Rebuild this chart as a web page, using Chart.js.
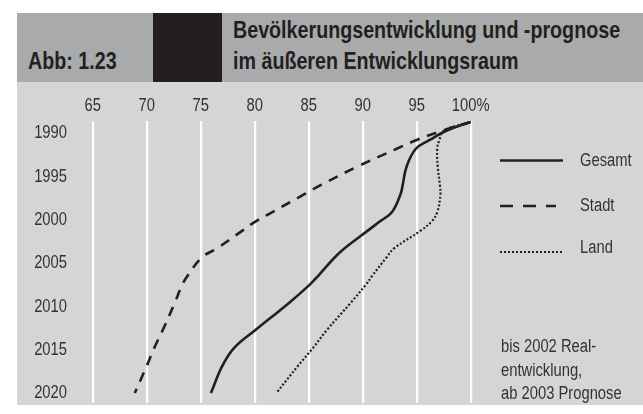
<!DOCTYPE html>
<html>
<head>
<meta charset="utf-8">
<script src="https://cdn.jsdelivr.net/npm/chart.js@4.4.0/dist/chart.umd.min.js"></script>
<style>
  body { margin: 0; width: 643px; height: 414px; background: #fff; position: relative; overflow: hidden;
         font-family: 'Liberation Sans', Arial, sans-serif; color: #231f20; }
  .nar   { transform: scaleX(0.82); transform-origin: 0 0; white-space: nowrap; }
  #head  { position: absolute; left: 17px; top: 13px; width: 626px; height: 69px; background: #a9aaac; }
  #box   { position: absolute; left: 153px; top: 13px; width: 69px; height: 69px; background: #231f20; }
  #abb   { position: absolute; left: 28px; top: 47px; font-weight: bold; font-size: 24px; line-height: 28px; }
  #title { position: absolute; left: 233px; top: 14px; font-weight: bold; font-size: 24px; line-height: 31px; }
  #plot  { position: absolute; left: 17px; top: 82px; width: 626px; height: 323px; background: #d4d5d7; }
  #plot canvas { position: absolute; left: 0; top: 0; }
  .lg    { position: absolute; left: 580px; font-size: 18px; line-height: 24px; color: #333; }
  .sw    { position: absolute; left: 500px; }
  #note  { position: absolute; left: 501px; top: 335px; font-size: 18px; line-height: 23.5px; color: #333; }
</style>
</head>
<body>
<div id="head"></div>
<div id="box"></div>
<div id="abb" class="nar">Abb: 1.23</div>
<div id="title" class="nar">Bevölkerungsentwicklung und -prognose<br>im äußeren Entwicklungsraum</div>
<div id="plot"><canvas id="chart" width="626" height="323"></canvas></div>

<svg class="sw" style="top:150px" width="64" height="20"><line x1="0" y1="10.5" x2="63" y2="10.5" stroke="#231f20" stroke-width="2.6"/></svg>
<svg class="sw" style="top:196px" width="64" height="20"><line x1="0" y1="10" x2="56" y2="10" stroke="#231f20" stroke-width="2.6" stroke-dasharray="13 10"/></svg>
<svg class="sw" style="top:242px" width="64" height="20"><line x1="0" y1="10" x2="62" y2="10" stroke="#231f20" stroke-width="2.2" stroke-dasharray="2 2"/></svg>
<div class="lg nar" style="top:148px">Gesamt</div>
<div class="lg nar" style="top:193px">Stadt</div>
<div class="lg nar" style="top:235px">Land</div>
<div id="note" class="nar">bis 2002 Real-<br>entwicklung,<br>ab 2003 Prognose</div>

<script>
// Jahre (y) und Index in % (x)
const years  = [1990, 1991, 1992, 1993, 1995, 1997, 1998, 2000, 2001, 2002, 2004, 2005, 2007, 2008, 2010, 2013, 2015, 2017, 2020];
const gesamt = [100, 97.7, 96.2, 94.9, 94.05, 93.7, 93.5, 92.7, 91.6, 90.5, 88.3, 87.4, 85.9, 85.1, 83.2, 80.1, 78.1, 77.0, 75.95];
const stadt  = [100, 97.3, 95.0, 93.1, 89.4, 86.1, 84.6, 81.6, 80.1, 78.9, 76.5, 75.1, 73.8, 73.3, 72.6, 71.5, 70.7, 70.0, 68.9];
const land   = [100, 97.5, 97.1, 96.9, 96.95, 97.15, 97.2, 96.9, 96.4, 95.4, 92.9, 92.2, 90.9, 90.3, 88.9, 86.7, 85.4, 84.0, 82.0];

const xTicks  = [65, 70, 75, 80, 85, 90, 95, 100];
const xLabels = ["65", "70", "75", "80", "85", "90", "95", "100%"];
const yTicks  = [1990, 1995, 2000, 2005, 2010, 2015, 2020];

const FONT = "'Liberation Sans', Arial, sans-serif";
const INK = "#231f20";

const toPoints = (vals) => vals.map((v, i) => ({ x: v, y: years[i] }));

function line(label, vals, dash, width) {
    return {
        label: label,
        data: toPoints(vals),
        showLine: true,
        borderColor: INK,
        borderWidth: width,
        borderDash: dash,
        borderCapStyle: "butt",
        pointRadius: 0,
        tension: 0.4,
        yAxisID: "y"
    };
}

// no automatic edge padding from the scales
function noPad(scale) {
    scale.paddingTop = 0;
    scale.paddingBottom = 0;
    scale.paddingLeft = 0;
    scale.paddingRight = 0;
}

// Arial Narrow is not installed: squeeze each tick label around its anchor
function narrowLabels(s) {
    if (s._narrow) return;
    s._narrow = true;
    const orig = s.drawLabels.bind(s);
    s.drawLabels = function (area) {
        const ctx = s.ctx;
        const fill = ctx.fillText;
        ctx.fillText = function (t, x, y) {
            this.save();
            this.translate(x, y);
            this.scale(0.82, 1);
            fill.call(this, t, 0, 0);
            this.restore();
        };
        orig(area);
        ctx.fillText = fill;
    };
}

new Chart(document.getElementById("chart"), {
    type: "scatter",
    data: {
        datasets: [
            line("Gesamt", gesamt, [], 2.6),
            line("Stadt", stadt, [10, 8], 2.6),
            line("Land", land, [2, 2], 2.2)
        ]
    },
    options: {
        responsive: false,
        animation: false,
        layout: { padding: { left: 0, top: 0, right: 172.3, bottom: 2 } },
        plugins: { legend: { display: false }, tooltip: { enabled: false } },
        scales: {
            x: {
                type: "linear",
                position: "top",
                min: 65,
                max: 100,
                afterBuildTicks: (s) => { s.ticks = xTicks.map(v => ({ value: v })); },
                afterFit: (s) => { s.height = 39; noPad(s); narrowLabels(s); },
                grid: { color: "#ffffff", lineWidth: 2.2, drawTicks: false },
                border: { display: false },
                ticks: {
                    padding: 4.5,
                    color: "#333",
                    font: { family: FONT, size: 18 },
                    callback: (v) => xLabels[xTicks.indexOf(v)]
                }
            },
            // data scale (hidden)
            y: {
                type: "linear",
                reverse: true,
                min: 1989.9,
                max: 2021.1,
                display: false
            },
            // scale carrying the year labels
            yl: {
                type: "linear",
                position: "left",
                reverse: true,
                min: 1988.58,
                max: 2021.12,
                afterBuildTicks: (s) => { s.ticks = yTicks.map(v => ({ value: v })); },
                afterFit: (s) => { s.width = 75.7; noPad(s); narrowLabels(s); },
                grid: { display: false },
                border: { display: false },
                ticks: {
                    padding: 17.7,
                    color: "#333",
                    font: { family: FONT, size: 18 },
                    callback: (v) => String(v)
                }
            }
        }
    }
});
</script>
</body>
</html>
